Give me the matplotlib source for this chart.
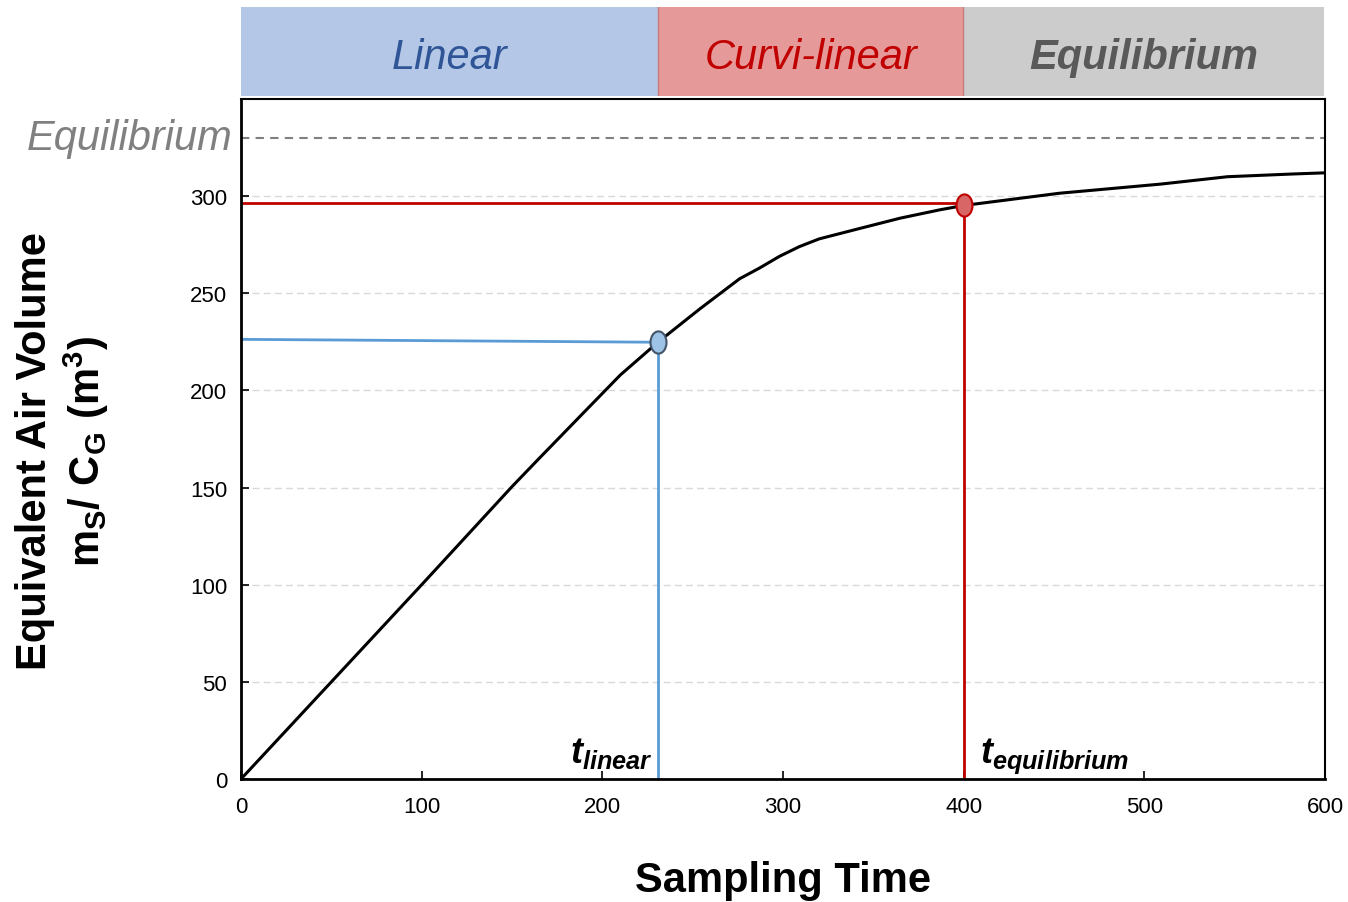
import matplotlib
matplotlib.use("Agg")
import matplotlib.pyplot as plt
from matplotlib.path import Path
import matplotlib.transforms as mtransforms

# ---- data ----
time_pts = [0, 50, 100, 150, 165, 188, 210, 231, 254, 276, 287, 298, 309,
            320, 343, 365, 387, 400, 453, 509, 546, 582, 600]
volume_pts = [0, 50, 100, 150.5, 165, 187, 208, 225, 242, 257.5, 263, 269,
              274, 278, 283.5, 288.7, 293, 295.2, 301.5, 306.2, 310, 311.4, 312]
t_linear = 231
v_linear = 225
v_linear_line = [226.3, 224.8]
t_equil = 400
v_equil = 295.2
v_equil_line = 296.7
equilibrium_level = 330
phase_names = ["Linear", "Curvi-linear", "Equilibrium"]
phase_bounds = [0, 231, 400, 600]
x_ticks = [0, 100, 200, 300, 400, 500, 600]
y_ticks = [0, 50, 100, 150, 200, 250, 300]

plt.rcParams['font.family'] = ['Liberation Sans', 'DejaVu Sans']
plt.rcParams['mathtext.fontset'] = 'custom'
plt.rcParams['mathtext.rm'] = 'Liberation Sans:bold'
plt.rcParams['mathtext.bf'] = 'Liberation Sans:bold'
plt.rcParams['mathtext.it'] = 'Liberation Sans:italic:bold'

fig = plt.figure(figsize=(13.48, 9.03), dpi=100)
ax = fig.add_axes([0.1788, 0.13621, 0.80415, 0.75304])
band = fig.add_axes([0.1788, 0.89258, 0.80563, 0.09856])

# ---- phase band ----
band_fill = ["#b4c7e7", "#e69999", "#cccccc"]
band_edge = ["#b4c7e7", "#c97b7b", "#cccccc"]
band_text = ["#2f5597", "#c00000", "#595959"]
band_weight = ["normal", "normal", "bold"]
for i, name in enumerate(phase_names):
    band.axvspan(phase_bounds[i], phase_bounds[i + 1], color=band_fill[i], lw=0)
    band.text((phase_bounds[i] + phase_bounds[i + 1]) / 2, 0.44, name,
              ha='center', va='center', fontsize=30, style='italic',
              fontweight=band_weight[i], color=band_text[i])
band.axvline(phase_bounds[1], color=band_edge[1], lw=1)
band.axvline(phase_bounds[2], color=band_edge[1], lw=1)
band.set_xlim(0, 601.5)
band.set_ylim(0, 1)
band.axis('off')

# ---- main chart ----
ax.set_xlim(0, 600)
ax.set_ylim(0, 350)
for y in y_ticks[1:]:
    ax.axhline(y, color='#d9d9d9', lw=1, ls=(0, (5, 3)), zorder=0)
ax.axhline(equilibrium_level, color='#808080', lw=1.5, ls=(0, (4, 3)), zorder=1)

ax.plot([0, t_linear], v_linear_line, color='#5b9bd5', lw=2, zorder=2)
ax.plot([t_linear, t_linear], [0, v_linear], color='#5b9bd5', lw=2, zorder=2)
ax.plot([0, t_equil], [v_equil_line, v_equil_line], color='#c00000', lw=2, zorder=2)
ax.plot([t_equil, t_equil], [0, v_equil], color='#c00000', lw=2, zorder=2)

ax.plot(time_pts, volume_pts, color='black', lw=2.2, zorder=3,
        solid_joinstyle='round')

ell = Path.unit_circle().transformed(mtransforms.Affine2D().scale(0.72, 1))
ax.plot([t_linear], [v_linear], marker=ell, ms=16, mfc='#9dc3e6',
        mec='#44546a', mew=1.5, ls='none', zorder=4, clip_on=False)
ax.plot([t_equil], [v_equil], marker=ell, ms=16, mfc='#d96666',
        mec='#c00000', mew=1.5, ls='none', zorder=4, clip_on=False)

ax.text(-4.5, equilibrium_level, "Equilibrium", ha='right', va='center',
        fontsize=30, style='italic', color='#808080', clip_on=False)
ax.text(228, 9, r"$t_{linear}$", ha='right', va='baseline', fontsize=26)
ax.text(409, 9, r"$t_{equilibrium}$", ha='left', va='baseline', fontsize=26)

ax.set_xticks(x_ticks)
ax.set_yticks(y_ticks)
ax.tick_params(axis='both', direction='in', length=6, width=1.2,
               labelsize=16, colors='black')
ax.tick_params(axis='y', pad=10)
ax.tick_params(axis='x', pad=12)
for s in ['left', 'bottom']:
    ax.spines[s].set_linewidth(2)
for s in ['top', 'right']:
    ax.spines[s].set_linewidth(1.5)

fig.text(0.5808, 0.0245, "Sampling Time", ha='center', va='center',
         fontsize=30, fontweight='bold')
fig.text(0.026, 0.501, "Equivalent Air Volume", rotation=90, ha='center',
         va='center', fontsize=30, fontweight='bold')
fig.text(0.064, 0.5, r"$\mathrm{m_S/\ C_G\ (m^3)}$", rotation=90,
         ha='center', va='center', fontsize=30)

fig.savefig("out.png", dpi=100)
